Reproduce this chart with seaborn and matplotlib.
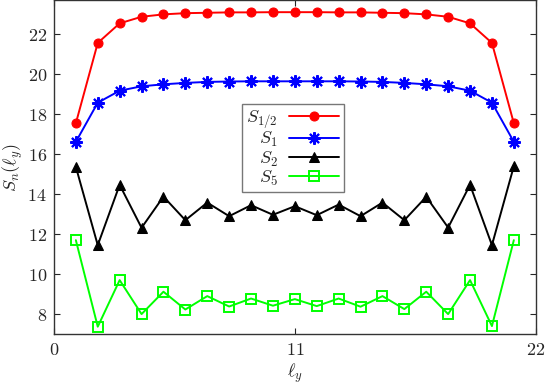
import matplotlib
matplotlib.use("Agg")
import matplotlib.pyplot as plt
import seaborn as sns

ell = list(range(1, 22))
s_half = [17.55, 21.57, 22.55, 22.88, 23.0, 23.06, 23.08, 23.1, 23.1, 23.11, 23.11,
          23.11, 23.1, 23.1, 23.08, 23.06, 23.0, 22.88, 22.55, 21.57, 17.55]
s_1 = [16.62, 18.58, 19.18, 19.4, 19.5, 19.57, 19.62, 19.64, 19.65, 19.65, 19.65,
       19.65, 19.65, 19.64, 19.62, 19.57, 19.5, 19.4, 19.18, 18.58, 16.62]
s_2 = [15.37, 11.45, 14.47, 12.32, 13.88, 12.7, 13.58, 12.9, 13.45, 12.97, 13.4,
       12.95, 13.48, 12.9, 13.58, 12.7, 13.87, 12.33, 14.47, 11.45, 15.4]
s_5 = [11.7, 7.37, 9.7, 8.0, 9.12, 8.23, 8.9, 8.38, 8.78, 8.42, 8.75,
       8.4, 8.78, 8.37, 8.9, 8.25, 9.12, 8.0, 9.7, 7.4, 11.7]
labels = [r"$S_{1/2}$", r"$S_1$", r"$S_2$", r"$S_5$"]
xticks = [0, 11, 22]
yticks = [8, 10, 12, 14, 16, 18, 20, 22]

sns.set_style("ticks")
plt.rcParams["mathtext.fontset"] = "cm"
plt.rcParams["font.family"] = ["DejaVu Serif"]

fig = plt.figure(figsize=(5.45, 3.84), dpi=100)
ax = fig.add_axes([0.099, 0.13, 0.884, 0.869])

sns.lineplot(x=ell, y=s_half, ax=ax, color="#ff0000", marker="o", markersize=6.5,
             markeredgecolor="#ff0000", linewidth=1.4, label=labels[0])
sns.lineplot(x=ell, y=s_1, ax=ax, color="#0000ff", marker=(8, 2, 0), markersize=9,
             markeredgecolor="#0000ff", markeredgewidth=1.5, linewidth=1.4, label=labels[1])
sns.lineplot(x=ell, y=s_2, ax=ax, color="black", marker="^", markersize=7.5,
             markeredgecolor="black", linewidth=1.4, label=labels[2])
sns.lineplot(x=ell, y=s_5, ax=ax, color="#00ff00", marker="s", markersize=7,
             markerfacecolor="none", markeredgecolor="#00ff00", markeredgewidth=1.4,
             linewidth=1.4, label=labels[3])

ax.set_xlim(0, 22)
ax.set_ylim(7, 23.7)
ax.set_xticks(xticks)
ax.set_xticklabels([f"${t}$" for t in xticks], fontsize=13)
ax.set_yticks(yticks)
ax.set_yticklabels([f"${t}$" for t in yticks], fontsize=13)
ax.tick_params(direction="in", top=True, right=True, length=4, width=0.8, pad=5)
for sp in ax.spines.values():
    sp.set_linewidth(1.0)
    sp.set_color("#333333")

ax.set_xlabel(r"$\ell_y$", fontsize=13, labelpad=2)
ax.set_ylabel(r"$S_n(\ell_y)$", fontsize=13, labelpad=2)

leg = ax.legend(loc="upper left", bbox_to_anchor=(0.39, 0.69), markerfirst=False,
                fontsize=13, frameon=True, fancybox=False, framealpha=1,
                handlelength=2.8, borderpad=0.25, labelspacing=0.0,
                handletextpad=0.6, borderaxespad=0)
leg.get_frame().set_edgecolor("#777777")
leg.get_frame().set_linewidth(1.0)
leg.get_frame().set_facecolor("white")
leg.set_zorder(5)
for col in leg._legend_handle_box.get_children():
    col.align = "right"

fig.savefig("out.png", dpi=100)
